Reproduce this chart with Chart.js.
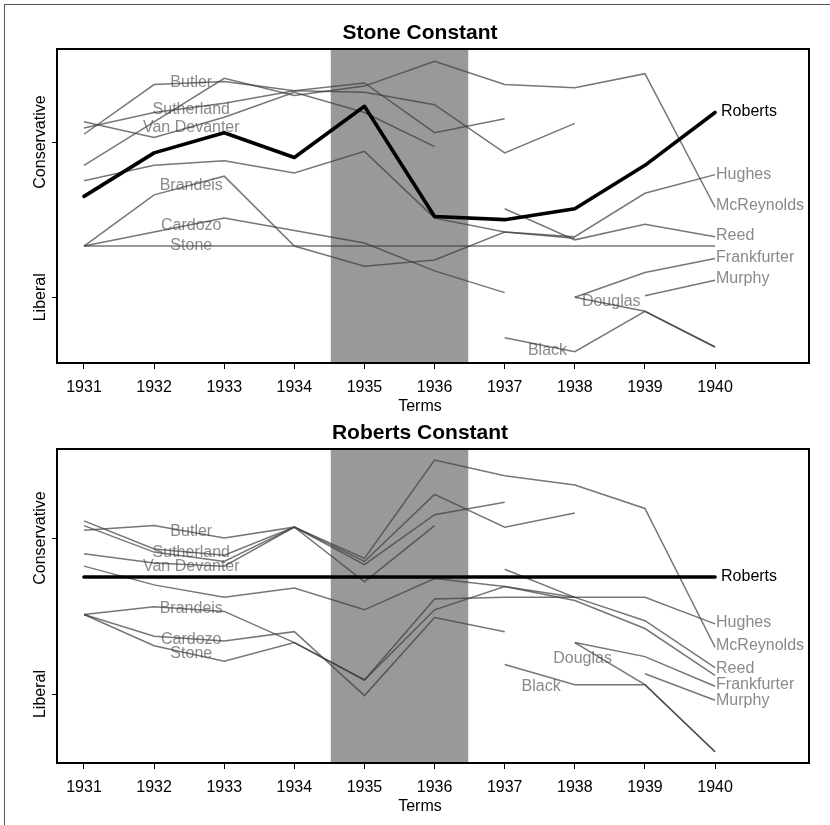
<!DOCTYPE html>
<html><head><meta charset="utf-8">
<script src="https://cdn.jsdelivr.net/npm/chart.js@4"></script>
<style>
html,body{margin:0;padding:0;background:#fff;}
body{width:830px;height:825px;position:relative;overflow:hidden;}
#frame{position:absolute;left:4px;top:4px;width:840px;height:840px;border:1px solid #555;box-sizing:border-box;}
canvas{position:absolute;left:0;}
#c1{top:0;}
#c2{top:412px;}
</style></head><body>
<div id="frame"></div>
<canvas id="c1" width="830" height="425"></canvas>
<canvas id="c2" width="830" height="413"></canvas>
<script>
// ---------- shared axes ----------
const terms = [1931, 1932, 1933, 1934, 1935, 1936, 1937, 1938, 1939, 1940];
const xTickLabels = ['1931', '1932', '1933', '1934', '1935', '1936', '1937', '1938', '1939', '1940'];
const yTickValues = [0, 1];
const yTickLabels = ['Liberal', 'Conservative'];
const shadedTerms = [1934.52, 1936.48];
const xRange = [1930.615, 1941.34];

// ---------- panel 1: Stone Constant (ideal points, Liberal = 0, Conservative = 1) ----------
const stoneRoberts     = [0.65, 0.93, 1.06, 0.90, 1.23, 0.52, 0.50, 0.57, 0.85, 1.19];
const stoneHughes      = [0.75, 0.85, 0.88, 0.80, 0.94, 0.51, 0.42, 0.39, 0.67, 0.79];
const stoneButler      = [1.05, 1.37, 1.39, 1.33, 1.32, 1.24, 0.93, 1.12, null, null];
const stoneSutherland  = [1.09, 1.19, 1.25, 1.33, 1.38, 1.06, 1.15, null, null, null];
const stoneVanDevanter = [1.13, 1.03, 1.16, 1.32, 1.19, 0.97, null, null, null, null];
const stoneMcReynolds  = [0.85, 1.13, 1.41, 1.30, 1.36, 1.52, 1.37, 1.35, 1.44, 0.58];
const stoneBrandeis    = [0.33, 0.66, 0.78, 0.33, 0.20, 0.24, 0.42, 0.38, null, null];
const stoneCardozo     = [0.33, 0.42, 0.51, 0.43, 0.35, 0.17, 0.03, null, null, null];
const stoneStone       = [0.33, 0.33, 0.33, 0.33, 0.33, 0.33, 0.33, 0.33, 0.33, 0.33];
const stoneBlack       = [null, null, null, null, null, null, -0.26, -0.35, -0.09, -0.32];
const stoneReed        = [null, null, null, null, null, null, 0.57, 0.37, 0.47, 0.39];
const stoneFrankfurter = [null, null, null, null, null, null, null, 0.00, 0.16, 0.25];
const stoneDouglas     = [null, null, null, null, null, null, null, 0.00, -0.09, -0.32];
const stoneMurphy      = [null, null, null, null, null, null, null, null, 0.01, 0.11];

// ---------- panel 2: Roberts Constant ----------
const robertsRoberts     = [0.75, 0.75, 0.75, 0.75, 0.75, 0.75, 0.75, 0.75, 0.75, 0.75];
const robertsHughes      = [0.82, 0.70, 0.62, 0.68, 0.54, 0.74, 0.69, 0.60, 0.42, 0.12];
const robertsButler      = [1.05, 1.08, 1.00, 1.07, 0.85, 1.28, 1.07, 1.16, null, null];
const robertsSutherland  = [1.11, 0.93, 0.89, 1.07, 0.83, 1.15, 1.23, null, null, null];
const robertsVanDevanter = [0.90, 0.84, 0.82, 1.07, 0.72, 1.08, null, null, null, null];
const robertsMcReynolds  = [1.08, 0.91, 0.85, 1.07, 0.87, 1.50, 1.40, 1.34, 1.19, 0.30];
const robertsBrandeis    = [0.51, 0.56, 0.53, 0.33, 0.09, 0.54, 0.69, 0.62, null, null];
const robertsCardozo     = [0.51, 0.37, 0.34, 0.40, -0.01, 0.49, 0.40, null, null, null];
const robertsStone       = [0.51, 0.31, 0.21, 0.33, 0.09, 0.61, 0.62, 0.62, 0.62, 0.45];
const robertsBlack       = [null, null, null, null, null, null, 0.19, 0.06, 0.06, -0.37];
const robertsReed        = [null, null, null, null, null, null, 0.80, 0.62, 0.47, 0.17];
const robertsFrankfurter = [null, null, null, null, null, null, null, 0.33, 0.24, 0.05];
const robertsDouglas     = [null, null, null, null, null, null, null, 0.33, 0.06, -0.37];
const robertsMurphy      = [null, null, null, null, null, null, null, null, 0.13, -0.04];

// ---------- name labels (anchored in data space) ----------
const leftLabelTerm = 1932.53;
const leftLabelNames = ['Butler', 'Sutherland', 'Van Devanter', 'Brandeis', 'Cardozo', 'Stone'];
const rightLabelNames = ['Roberts', 'Hughes', 'McReynolds', 'Reed', 'Frankfurter', 'Murphy'];
const stoneLeftLabelY = [1.38, 1.21, 1.095, 0.72, 0.46, 0.33];
const stoneRightLabelY = [1.195, 0.79, 0.59, 0.40, 0.255, 0.118];
const stoneFreeLabels = [['Douglas', 1938.52, -0.03], ['Black', 1937.61, -0.34]];
const robertsLeftLabelY = [1.04, 0.91, 0.82, 0.55, 0.35, 0.26];
const robertsRightLabelY = [0.75, 0.46, 0.31, 0.165, 0.06, -0.04];
const robertsFreeLabels = [['Douglas', 1938.11, 0.23], ['Black', 1937.52, 0.05]];

const FONT = '"Liberation Sans", Arial, Helvetica, sans-serif';
Chart.defaults.font.family = FONT;

const panelPlugin = {
  id: 'panel',
  beforeDatasetsDraw(chart, args, o) {
    const {ctx, chartArea: a, scales: {x, y}} = chart;
    ctx.save();
    const x0 = x.getPixelForValue(shadedTerms[0]);
    const x1 = x.getPixelForValue(shadedTerms[1]);
    ctx.fillStyle = '#999999';
    ctx.fillRect(x0, a.top, x1 - x0, a.bottom - a.top);
    ctx.font = '16px ' + FONT;
    ctx.textBaseline = 'middle';
    ctx.fillStyle = '#8a8a8a';
    ctx.textAlign = 'center';
    leftLabelNames.forEach((n, i) => ctx.fillText(n, x.getPixelForValue(leftLabelTerm), y.getPixelForValue(o.leftY[i])));
    o.free.forEach(f => ctx.fillText(f[0], x.getPixelForValue(f[1]), y.getPixelForValue(f[2])));
    ctx.textAlign = 'left';
    const xe = x.getPixelForValue(terms[terms.length - 1]);
    rightLabelNames.forEach((n, i) => {
      const isR = n === 'Roberts';
      ctx.fillStyle = isR ? '#000' : '#8a8a8a';
      ctx.fillText(n, xe + (isR ? 6 : 1), y.getPixelForValue(o.rightY[i]));
    });
    ctx.restore();
  },
  afterDraw(chart) {
    const {ctx, chartArea: a, scales: {y}} = chart;
    ctx.save();
    ctx.strokeStyle = '#000';
    ctx.lineWidth = 2;
    ctx.strokeRect(a.left, a.top, a.right - a.left, a.bottom - a.top);
    ctx.fillStyle = '#000';
    ctx.font = '16px ' + FONT;
    yTickValues.forEach((v, i) => {
      ctx.save();
      ctx.translate(a.left - 12, y.getPixelForValue(v));
      ctx.rotate(-Math.PI / 2);
      ctx.textAlign = 'center';
      ctx.textBaseline = 'alphabetic';
      ctx.fillText(yTickLabels[i], 0, 0);
      ctx.restore();
    });
    const tb = chart.titleBlock;
    ctx.textAlign = 'center';
    ctx.textBaseline = 'middle';
    ctx.fillText('Terms', tb.left + tb.width / 2, a.bottom + 43.5);
    ctx.restore();
  }
};

function makePanel(id, title, titlePad, series, leftY, rightY, free, yRange) {
  const datasets = series.map(([name, vals]) => {
    const isR = name === 'Roberts';
    return {
      label: name,
      data: terms.map((t, i) => ({x: t, y: vals[i]})),
      borderColor: isR ? '#000000' : 'rgba(60,60,60,0.7)',
      borderWidth: isR ? 3.6 : 1.5,
      borderCapStyle: isR ? 'round' : 'butt',
      borderJoinStyle: isR ? 'round' : 'miter',
      pointRadius: 0,
      pointHoverRadius: 0,
      tension: 0,
      fill: false,
      spanGaps: false
    };
  });
  return new Chart(document.getElementById(id), {
    type: 'line',
    data: {datasets},
    plugins: [panelPlugin],
    options: {
      responsive: false,
      animation: false,
      devicePixelRatio: 1,
      events: [],
      layout: {padding: {left: 31, right: 21, top: 0, bottom: 0}},
      plugins: {
        legend: {display: false},
        tooltip: {enabled: false},
        title: {display: true, text: title, color: '#000',
                font: {size: 21, weight: 'bold'}, padding: titlePad},
        panel: {leftY, rightY, free}
      },
      scales: {
        x: {
          type: 'linear', min: xRange[0], max: xRange[1],
          afterBuildTicks: s => { s.ticks = terms.map(v => ({value: v})); },
          afterFit: s => { s.height = 62; },
          ticks: {callback: (v, i) => xTickLabels[i], color: '#000', font: {size: 16},
                  padding: 8.5, maxRotation: 0, minRotation: 0, autoSkip: false},
          grid: {drawOnChartArea: false, drawTicks: true, tickLength: 6, color: '#000', lineWidth: 1},
          border: {display: false}
        },
        y: {
          type: 'linear', min: yRange[0], max: yRange[1],
          afterBuildTicks: s => { s.ticks = yTickValues.map(v => ({value: v})); },
          afterFit: s => { s.width = 26; },
          ticks: {display: false},
          grid: {drawOnChartArea: false, drawTicks: true, tickLength: 5, color: '#000', lineWidth: 1},
          border: {display: false}
        }
      }
    }
  });
}

makePanel('c1', 'Stone Constant', {top: 20.9, bottom: 2.9}, [
  ['Roberts', stoneRoberts], ['Hughes', stoneHughes], ['Butler', stoneButler],
  ['Sutherland', stoneSutherland], ['Van Devanter', stoneVanDevanter], ['McReynolds', stoneMcReynolds],
  ['Brandeis', stoneBrandeis], ['Cardozo', stoneCardozo], ['Stone', stoneStone],
  ['Black', stoneBlack], ['Reed', stoneReed], ['Frankfurter', stoneFrankfurter],
  ['Douglas', stoneDouglas], ['Murphy', stoneMurphy]
], stoneLeftLabelY, stoneRightLabelY, stoneFreeLabels, [-0.423, 1.599]);

makePanel('c2', 'Roberts Constant', {top: 8.9, bottom: 2.9}, [
  ['Roberts', robertsRoberts], ['Hughes', robertsHughes], ['Butler', robertsButler],
  ['Sutherland', robertsSutherland], ['Van Devanter', robertsVanDevanter], ['McReynolds', robertsMcReynolds],
  ['Brandeis', robertsBrandeis], ['Cardozo', robertsCardozo], ['Stone', robertsStone],
  ['Black', robertsBlack], ['Reed', robertsReed], ['Frankfurter', robertsFrankfurter],
  ['Douglas', robertsDouglas], ['Murphy', robertsMurphy]
], robertsLeftLabelY, robertsRightLabelY, robertsFreeLabels, [-0.442, 1.571]);
</script>
</body></html>
